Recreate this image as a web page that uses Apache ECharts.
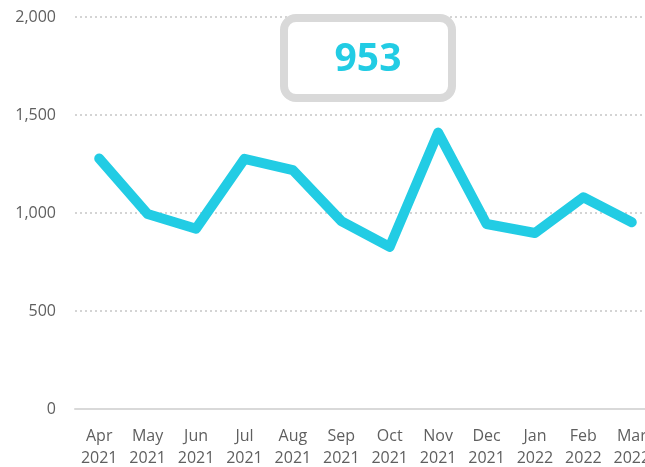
<!DOCTYPE html>
<html>
<head>
<meta charset="utf-8">
<script src="https://cdn.jsdelivr.net/npm/echarts@6/dist/echarts.min.js"></script>
<style>
  html, body { margin: 0; padding: 0; background: #fff; }
  #chart { width: 645px; height: 467px; }
</style>
</head>
<body>
<div id="chart"></div>
<script>
// months shown along the bottom
const months = ['Apr\n2021', 'May\n2021', 'Jun\n2021', 'Jul\n2021', 'Aug\n2021', 'Sep\n2021',
  'Oct\n2021', 'Nov\n2021', 'Dec\n2021', 'Jan\n2022', 'Feb\n2022', 'Mar\n2022']
const values = [1278, 995, 920, 1276, 1219, 959, 827, 1410, 944, 898, 1080, 953]
const yTicks = [0, 500, 1000, 1500, 2000]

const lineColor = '#22cce4'
const fontFamily = '"Open Sans", "Segoe UI", sans-serif'

let chart = echarts.init(document.getElementById('chart'))
let option = {
  animation: false,
  grid: { left: 75, width: 581, top: 17, height: 392, outerBoundsMode: 'none', containLabel: false },
  xAxis: {
    type: 'category',
    data: months,
    boundaryGap: true,
    axisTick: { show: false },
    axisLine: { lineStyle: { color: '#d9d9d9', width: 2 } },
    axisLabel: {
      interval: 0,
      color: '#5f5f5f',
      fontSize: 16,
      lineHeight: 22,
      margin: 16,
      fontFamily: fontFamily
    }
  },
  yAxis: {
    type: 'value',
    min: yTicks[0],
    max: yTicks[yTicks.length - 1],
    interval: 500,
    axisLine: { show: false },
    axisTick: { show: false },
    axisLabel: {
      color: '#5f5f5f',
      fontSize: 16,
      margin: 19,
      fontFamily: fontFamily,
      formatter: v => v.toLocaleString('en-US')
    },
    splitLine: {
      lineStyle: { color: '#d4d4d4', width: 2, type: [2, 3] }
    }
  },
  graphic: [
    {
      type: 'rect',
      shape: { x: 284, y: 18, width: 168, height: 80, r: 12 },
      style: { fill: '#fff', stroke: '#d9d9d9', lineWidth: 8 },
      z: 100
    },
    {
      type: 'text',
      x: 368,
      y: 60,
      style: {
        text: values[values.length - 1].toLocaleString('en-US'),
        fill: lineColor,
        font: 'bold 39px ' + fontFamily,
        align: 'center',
        verticalAlign: 'middle'
      },
      z: 101
    }
  ],
  series: [
    {
      type: 'line',
      data: values,
      symbol: 'none',
      lineStyle: { color: lineColor, width: 10, cap: 'round', join: 'round' }
    }
  ]
}
chart.setOption(option)
</script>
</body>
</html>
